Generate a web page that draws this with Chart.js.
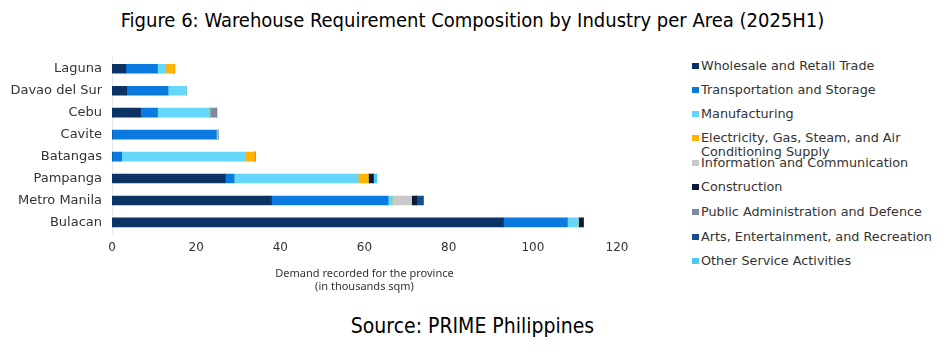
<!DOCTYPE html>
<html>
<head>
<meta charset="utf-8">
<script src="https://cdn.jsdelivr.net/npm/chart.js@4"></script>
<style>
  body { margin: 0; background: #fff; width: 945px; height: 352px; position: relative; overflow: hidden; }
  #title { position: absolute; left: 0; width: 945px; top: 8px; text-align: center;
           font-family: "Liberation Sans Narrow", "DejaVu Sans Condensed", sans-serif; font-size: 20px; color: #000; }
  #source { position: absolute; left: 0; width: 945px; top: 314px; text-align: center;
            font-family: "Liberation Sans Narrow", "DejaVu Sans Condensed", sans-serif; font-size: 21px; color: #000; }
  #wrap { position: absolute; left: 0; top: 40px; width: 680px; height: 260px; }
  #legend { position: absolute; left: 692px; top: 0; font-family: "DejaVu Sans", sans-serif; font-size: 12.8px; color: #333; }
  .item { position: absolute; left: 0; white-space: nowrap; line-height: 14px; }
  .sw { position: absolute; left: 0; top: 4px; width: 7px; height: 6px; }
  .txt { position: absolute; left: 9px; top: 0; }
</style>
</head>
<body>
<div id="title">Figure 6: Warehouse Requirement Composition by Industry per Area (2025H1)</div>
<div id="wrap"><canvas id="chart"></canvas></div>
<div id="legend"></div>
<div id="source">Source: PRIME Philippines</div>
<script>
// provinces, top to bottom
const provinces = ['Laguna', 'Davao del Sur', 'Cebu', 'Cavite', 'Batangas', 'Pampanga', 'Metro Manila', 'Bulacan'];

// demand per industry, thousands sqm
const wholesale     = [3.3, 3.5, 6.8, 0,    0,    26.9, 37.9, 93.0];
const transport     = [7.5, 9.8, 4.0, 24.8, 2.3,  2.1,  27.7, 15.2];
const manufacturing = [2.0, 4.4, 12.5, 0.4, 29.3, 29.5, 1.0,  2.6];
const electricity   = [2.1, 0,   0,   0,    2.4,  2.4,  0,    0];
const infoComm      = [0,   0,   0,   0,    0,    0,    4.6,  0];
const construction  = [0,   0,   0,   0,    0,    1.2,  1.2,  1.2];
const publicAdmin   = [0,   0,   1.6, 0,    0,    0,    0,    0];
const arts          = [0,   0,   0,   0,    0,    0,    1.6,  0];
const otherService  = [0,   0,   0,   0,    0,    0.8,  0,    0];

const industries = [
  'Wholesale and Retail Trade',
  'Transportation and Storage',
  'Manufacturing',
  ['Electricity, Gas, Steam, and Air', 'Conditioning Supply'],
  'Information and Communication',
  'Construction',
  'Public Administration and Defence',
  'Arts, Entertainment, and Recreation',
  'Other Service Activities'
];
const series = [wholesale, transport, manufacturing, electricity, infoComm, construction, publicAdmin, arts, otherService];
const colors = ['#0c3366', '#0a7ae0', '#66d6fa', '#ffb300', '#c9c9c9', '#0a1a30', '#7f8a9c', '#134f8e', '#4cc8f2'];

// legend rows (y of each row top inside the page)
const legendTops = [59, 83, 107, 131, 156, 180, 205, 230, 254];

const legend = document.getElementById('legend');
industries.forEach(function(name, i) {
  const item = document.createElement('div');
  item.className = 'item';
  item.style.top = legendTops[i] + 'px';
  const sw = document.createElement('span');
  sw.className = 'sw';
  sw.style.background = colors[i];
  const txt = document.createElement('span');
  txt.className = 'txt';
  txt.innerHTML = Array.isArray(name) ? name.join('<br>') : name;
  item.appendChild(sw);
  item.appendChild(txt);
  legend.appendChild(item);
});

const ctx = document.getElementById('chart').getContext('2d');
new Chart(ctx, {
  type: 'bar',
  data: {
    labels: provinces,
    datasets: series.map(function(values, i) {
      return {
        label: Array.isArray(industries[i]) ? industries[i].join(' ') : industries[i],
        data: values,
        backgroundColor: colors[i],
        borderWidth: 0,
        barThickness: 9
      };
    })
  },
  options: {
    indexAxis: 'y',
    responsive: true,
    maintainAspectRatio: false,
    animation: false,
    layout: { padding: { top: 10.6, right: 63, left: 0, bottom: 0 } },
    plugins: { legend: { display: false }, tooltip: { enabled: false } },
    scales: {
      x: {
        stacked: true,
        min: 0,
        max: 120,
        ticks: { stepSize: 20, color: '#333', font: { family: 'DejaVu Sans', size: 12 }, padding: 7 },
        grid: { display: false, drawTicks: false },
        border: { display: false },
        title: {
          display: true,
          text: ['Demand recorded for the province', '(in thousands sqm)'],
          color: '#333',
          font: { family: 'Noto Sans', size: 11, lineHeight: 1.25 },
          padding: { top: 0, bottom: 6 }
        },
        afterFit: function(scale) { scale.height = 66.6; }
      },
      y: {
        stacked: true,
        ticks: { color: '#333', font: { family: 'DejaVu Sans', size: 13 }, padding: 10 },
        grid: { display: false, drawTicks: false },
        border: { display: true, color: '#e3e8ee', width: 1 },
        afterFit: function(scale) { scale.width = 112; }
      }
    }
  }
});
</script>
</body>
</html>
